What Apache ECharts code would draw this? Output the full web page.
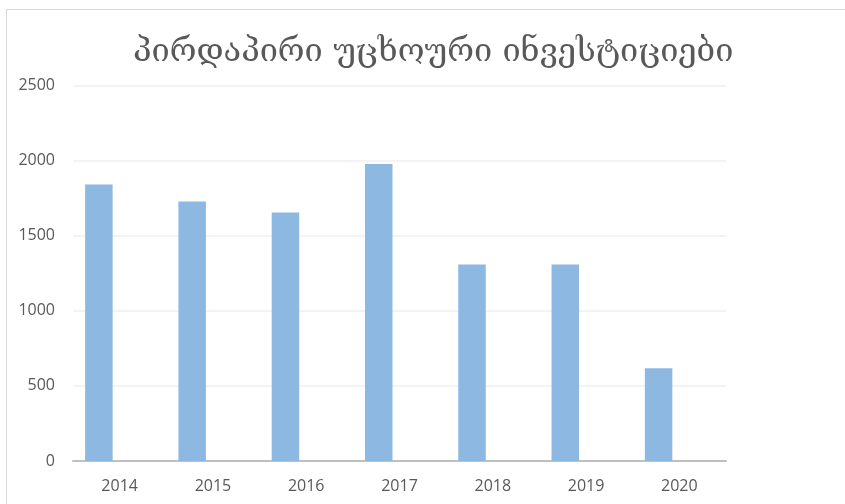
<!DOCTYPE html>
<html>
<head>
<meta charset="utf-8"/>
<title>FDI</title>
<script src="https://cdn.jsdelivr.net/npm/echarts@6/dist/echarts.min.js"></script>
<style>
  html, body { margin: 0; padding: 0; background: #fff; }
</style>
</head>
<body>
<div id="main" style="width: 845px;height:504px;"></div>
<script type="text/javascript">
// data
var titleText = 'პირდაპირი უცხოური ინვესტიციები';
var years = ['2014', '2015', '2016', '2017', '2018', '2019', '2020'];
var fdiValues = [1841, 1728, 1655, 1978, 1309, 1309, 617];
var emptyValues = [null, null, null, null, null, null, null]; // second (empty) series of the original chart
var yTicks = [0, 500, 1000, 1500, 2000, 2500];

var myChart = echarts.init(document.getElementById('main'));

var option = {
    animation: false,
    backgroundColor: '#ffffff',
    title: {
        text: titleText,
        left: 128,
        top: 31,
        textStyle: {
            fontFamily: 'DejaVu Serif',
            fontSize: 32.5,
            fontWeight: 'normal',
            color: '#595959'
        }
    },
    graphic: [{
        type: 'rect',
        shape: { x: 6.5, y: 9.5, width: 900, height: 600 },
        style: { fill: 'none', stroke: '#d9d9d9', lineWidth: 1 },
        silent: true
    }],
    grid: {
        left: 73,
        right: 119,
        top: 85.5,
        bottom: 43
    },
    xAxis: {
        type: 'category',
        data: years,
        axisTick: { show: false },
        axisLine: { lineStyle: { color: '#bfbfbf', width: 2 } },
        axisLabel: {
            margin: 17,
            fontFamily: 'Open Sans',
            fontSize: 16,
            color: '#595959'
        }
    },
    yAxis: {
        type: 'value',
        min: yTicks[0],
        max: yTicks[yTicks.length - 1],
        interval: 500,
        axisLine: { show: false },
        axisTick: { show: false },
        splitLine: { lineStyle: { color: '#efefef', width: 1.5 } },
        axisLabel: {
            margin: 18,
            fontFamily: 'Open Sans',
            fontSize: 16,
            color: '#595959',
            formatter: function (v) { return String(v); }
        }
    },
    series: [{
        name: 'FDI',
        type: 'bar',
        data: fdiValues,
        barWidth: 27.5,
        barGap: '51%',
        itemStyle: { color: '#8DB8E2' }
    }, {
        name: 'empty',
        type: 'bar',
        data: emptyValues,
        barWidth: 27.5,
        itemStyle: { color: '#8DB8E2' }
    }]
};

myChart.setOption(option);
</script>
</body>
</html>
